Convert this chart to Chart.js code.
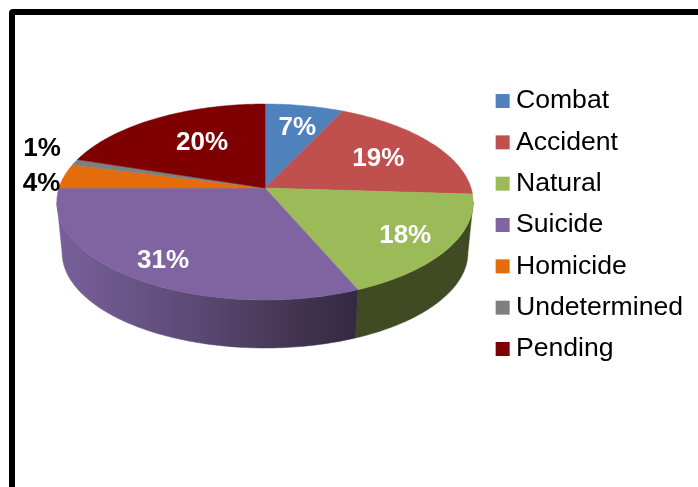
<!DOCTYPE html>
<html>
<head>
<meta charset="utf-8">
<title>Deaths by cause</title>
<script src="https://cdn.jsdelivr.net/npm/chart.js@4/dist/chart.umd.min.js"></script>
<style>
  html, body { margin: 0; background: #fff; overflow: hidden; }
  #wrap { position: relative; width: 698px; height: 487px; overflow: hidden; }
  #frame {
    position: absolute; left: 9px; top: 9px; width: 800px; height: 600px;
    border: 6px solid #000; border-radius: 4px; box-sizing: border-box;
  }
  canvas { position: absolute; left: 0; top: 0; }
</style>
</head>
<body>
<div id="wrap">
  <div id="frame"></div>
  <canvas id="pie" width="698" height="487"></canvas>
</div>
<script>
const categories = ['Combat', 'Accident', 'Natural', 'Suicide', 'Homicide', 'Undetermined', 'Pending'];
// estimated from the slice edges, the labels show them rounded
const percents   = [7, 19, 17.6, 31.4, 4, 1, 20];
const colors     = ['#4F81BD', '#C0504D', '#9BBB59', '#8064A2', '#E46C0A', '#7F7F7F', '#7F0000'];

// where each % label sits: fraction of the radius along the slice's mid angle, then a small y nudge
const labelRadius = [0.80, 0.67, 0.78, 0.81, 1.115, 1.18, 0.553];
const labelNudge  = [7, 2, 2, 1, 9, -9, -5];
const labelColors = ['#fff', '#fff', '#fff', '#fff', '#000', '#000', '#fff'];

// tilted pie, seen in perspective: near edge is bigger than far edge
const APEX_X = 265, APEX_Y = 188;
const RX = 206, RY = 96, PERSP = 1 / 7;
const DEPTH = 50.8, BOTTOM_SCALE = 0.975;
// rim is widest at cos = -PERSP, the wall is only visible between those two angles
const WALL_FROM = Math.acos(-PERSP), WALL_TO = 2 * Math.PI - WALL_FROM;

function project(theta, r = 1, scale = 1, dy = 0) {
  const u = r * Math.sin(theta), v = -r * Math.cos(theta);
  const w = 1 - PERSP * v;
  return { x: APEX_X + scale * RX * u / w, y: APEX_Y + dy + scale * RY * v / w };
}

function rimPath(ctx, from, to, scale, dy) {
  const steps = Math.max(2, Math.ceil(Math.abs(to - from) * 60));
  for (let i = 0; i <= steps; i++) {
    const p = project(from + (to - from) * i / steps, 1, scale, dy);
    ctx.lineTo(p.x, p.y);
  }
}

function wallFill(ctx, index) {
  if (index === 3) {
    const g = ctx.createLinearGradient(58, 0, 356, 0);
    g.addColorStop(0, '#77609a');
    g.addColorStop(0.45, '#5d4a76');
    g.addColorStop(0.8, '#423450');
    g.addColorStop(1, '#332a42');
    return g;
  }
  return '#404b23';
}

const tiltedPie = {
  id: 'tiltedPie',
  beforeDatasetsDraw(chart) {
    const ctx = chart.ctx;
    const arcs = chart.getDatasetMeta(0).data;
    const angles = arcs.map(a => ({
      from: a.startAngle + Math.PI / 2,
      to: a.endAngle + Math.PI / 2,
    }));

    ctx.save();
    // side wall first
    angles.forEach((a, i) => {
      const from = Math.max(a.from, WALL_FROM), to = Math.min(a.to, WALL_TO);
      if (to <= from) return;
      ctx.beginPath();
      rimPath(ctx, from, to, 1, 0);
      rimPath(ctx, to, from, BOTTOM_SCALE, DEPTH);
      ctx.closePath();
      const fill = wallFill(ctx, i);
      ctx.fillStyle = fill;
      ctx.strokeStyle = fill;
      ctx.lineWidth = 0.5;
      ctx.fill();
      ctx.stroke();
    });
    // top face
    angles.forEach((a, i) => {
      ctx.beginPath();
      ctx.moveTo(APEX_X, APEX_Y);
      rimPath(ctx, a.from, a.to, 1, 0);
      ctx.closePath();
      ctx.fillStyle = colors[i];
      ctx.strokeStyle = colors[i];
      ctx.lineWidth = 0.5;
      ctx.fill();
      ctx.stroke();
    });
    ctx.restore();
    return false; // the flat arcs are replaced by the ones above
  },
  afterDraw(chart) {
    const ctx = chart.ctx;
    const arcs = chart.getDatasetMeta(0).data;
    ctx.save();
    ctx.font = 'bold 26px "Liberation Sans", Arial, sans-serif';
    ctx.textAlign = 'center';
    ctx.textBaseline = 'middle';
    arcs.forEach((a, i) => {
      const mid = (a.startAngle + a.endAngle) / 2 + Math.PI / 2;
      const p = project(mid, labelRadius[i]);
      ctx.fillStyle = labelColors[i];
      ctx.fillText(Math.round(percents[i]) + '%', p.x, p.y + labelNudge[i]);
    });
    ctx.restore();
  },
};

new Chart(document.getElementById('pie'), {
  type: 'pie',
  data: {
    labels: categories,
    datasets: [{ data: percents, backgroundColor: colors, borderWidth: 0 }],
  },
  plugins: [tiltedPie],
  options: {
    responsive: false,
    animation: false,
    layout: { padding: { top: 73, right: 5 } },
    plugins: {
      tooltip: { enabled: false },
      legend: {
        position: 'right',
        align: 'start',
        labels: {
          color: '#000',
          font: { family: '"Liberation Sans", Arial, sans-serif', size: 26.6 },
          // point style with almost no box width: keeps the text close to the square
          usePointStyle: true,
          pointStyle: 'rect',
          boxWidth: 0.01,
          boxHeight: 14,
          padding: 14.73,
        },
      },
    },
  },
});
</script>
</body>
</html>
